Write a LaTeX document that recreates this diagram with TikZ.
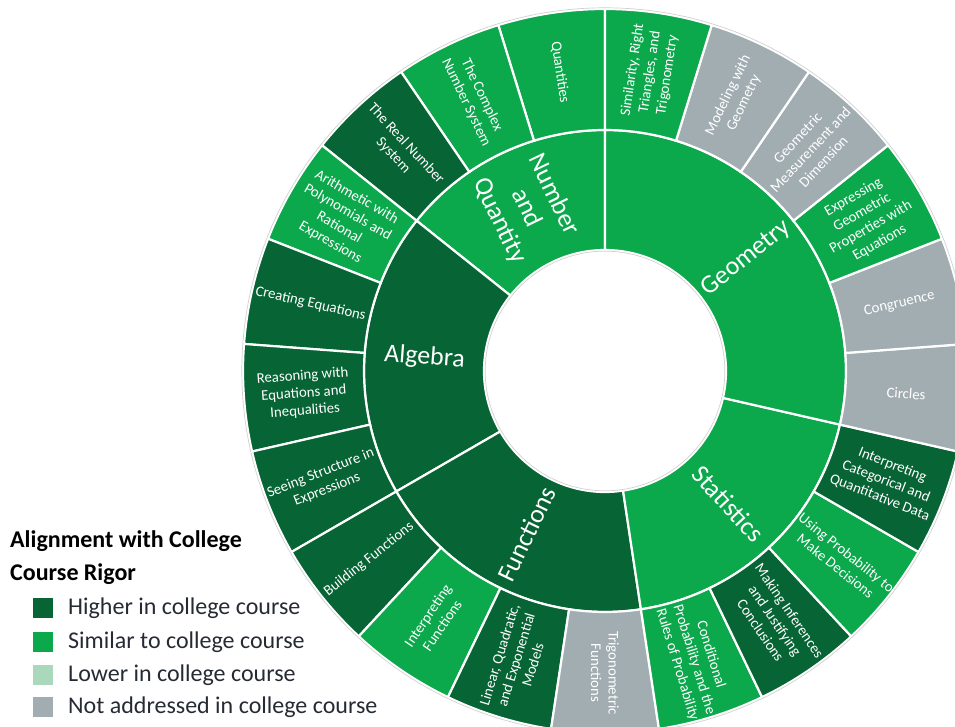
\documentclass[tikz,border=0pt]{standalone}
\usepackage{fontspec}
\setmainfont{Carlito}
\definecolor{hi}{HTML}{076434}
\definecolor{sim}{HTML}{0CA84C}
\definecolor{lo}{HTML}{A9D8BA}
\definecolor{na}{HTML}{A2ADB2}
\definecolor{legtext}{HTML}{262A33}
\newcommand\sbleaf[4]{%
  \pgfmathsetmacro\sbA{90+#1*360/21}%
  \pgfmathsetmacro\sbB{\sbA+360/21}%
  \pgfmathsetmacro\sbM{\sbA+180/21}%
  \pgfmathsetmacro\sbrot{\sbM<269.5 ? \sbM-180 : \sbM}%
  \filldraw[#2, seg] ([shift={(\sbA:241)}]C) arc[start angle=\sbA, end angle=\sbB, radius=241] -- ([shift={(\sbB:362)}]C) arc[start angle=\sbB, end angle=\sbA, radius=362] -- cycle;
  \begin{scope}
    \clip ([shift={(\sbA:241)}]C) arc[start angle=\sbA, end angle=\sbB, radius=241] -- ([shift={(\sbB:362)}]C) arc[start angle=\sbB, end angle=\sbA, radius=362] -- cycle;
    \node[leaflab, rotate=\sbrot] (#3) at ([shift={(\sbM:302)}]C) {#4};
  \end{scope}
}
\newcommand\sbroot[5]{%
  \pgfmathsetmacro\sbA{90+#1*360/21}%
  \pgfmathsetmacro\sbB{90+#2*360/21}%
  \pgfmathsetmacro\sbM{(\sbA+\sbB)/2}%
  \pgfmathsetmacro\sbrot{\sbM<269.5 ? \sbM-180 : \sbM}%
  \filldraw[#3, seg] ([shift={(\sbA:121)}]C) arc[start angle=\sbA, end angle=\sbB, radius=121] -- ([shift={(\sbB:241)}]C) arc[start angle=\sbB, end angle=\sbA, radius=241] -- cycle;
  \node[rootlab, rotate=\sbrot] (#4) at ([shift={(\sbM:181)}]C) {#5};
}
\begin{document}
\begin{tikzpicture}[x=1pt,y=1pt,
  seg/.style={draw=white, line width=2.2pt},
  leaflab/.style={text=white, font=\fontsize{14.8}{17.5}\selectfont, align=center, inner sep=0pt},
  rootlab/.style={text=white, font=\fontsize{26}{30}\selectfont, align=center, inner sep=0pt},
  legbox/.style={minimum size=20pt, inner sep=0pt},
  legtxt/.style={text=legtext, font=\fontsize{24}{28}\selectfont, anchor=west, inner sep=0pt},
  legtitle/.style={text=black, font=\bfseries\fontsize{24}{28}\selectfont, anchor=west, inner sep=0pt}]
\useasboundingbox (0,0) rectangle (955,727);
\coordinate (C) at (605,356);
\begin{scope}
\clip (0,0) rectangle (955,727);
% inner ring
\sbroot{0}{3}{sim}{nq}{Number\\and\\Quantity}
\sbroot{3}{7}{hi}{alg}{Algebra}
\sbroot{7}{11}{hi}{fun}{Functions}
\sbroot{11}{15}{sim}{sta}{Statistics}
\sbroot{15}{21}{sim}{geo}{Geometry}
% outer ring
\sbleaf{0}{sim}{l0}{Quantities}
\sbleaf{1}{sim}{l1}{The Complex\\Number System}
\sbleaf{2}{hi}{l2}{The Real Number\\System}
\sbleaf{3}{sim}{l3}{Arithmetic with\\Polynomials and\\Rational\\Expressions}
\sbleaf{4}{hi}{l4}{Creating Equations}
\sbleaf{5}{hi}{l5}{Reasoning with\\Equations and\\Inequalities}
\sbleaf{6}{hi}{l6}{Seeing Structure in\\Expressions}
\sbleaf{7}{hi}{l7}{Building Functions}
\sbleaf{8}{sim}{l8}{Interpreting\\Functions}
\sbleaf{9}{hi}{l9}{Linear, Quadratic,\\and Exponential\\Models}
\sbleaf{10}{na}{l10}{Trigonometric\\Functions}
\sbleaf{11}{sim}{l11}{Conditional\\Probability and the\\Rules of Probability}
\sbleaf{12}{hi}{l12}{Making Inferences\\and Justifying\\Conclusions}
\sbleaf{13}{sim}{l13}{Using Probability to\\Make Decisions}
\sbleaf{14}{hi}{l14}{Interpreting\\Categorical and\\Quantitative Data}
\sbleaf{15}{na}{l15}{Circles}
\sbleaf{16}{na}{l16}{Congruence}
\sbleaf{17}{sim}{l17}{Expressing\\Geometric\\Properties with\\Equations}
\sbleaf{18}{na}{l18}{Geometric\\Measurement and\\Dimension}
\sbleaf{19}{na}{l19}{Modeling with\\Geometry}
\sbleaf{20}{sim}{l20}{Similarity, Right\\Triangles, and\\Trigonometry}
\draw[black!18, line width=0.7pt] (C) circle[radius=363.2];
\draw[black!18, line width=0.7pt] (C) circle[radius=119.8];
\end{scope}
% legend
\node[legtitle] (t1) at (10,186) {Alignment with College};
\node[legtitle] (t2) at (10,153) {Course Rigor};
\node[legbox, fill=hi] (b1) at (43,119) {};
\node[legbox, fill=sim] (b2) at (43,85) {};
\node[legbox, fill=lo] (b3) at (43,52) {};
\node[legbox, fill=na] (b4) at (43,20) {};
\node[legtxt] (x1) at (68,119) {Higher in college course};
\node[legtxt] (x2) at (68,85) {Similar to college course};
\node[legtxt] (x3) at (68,52) {Lower in college course};
\node[legtxt] (x4) at (68,20) {Not addressed in college course};
\end{tikzpicture}
\end{document}
